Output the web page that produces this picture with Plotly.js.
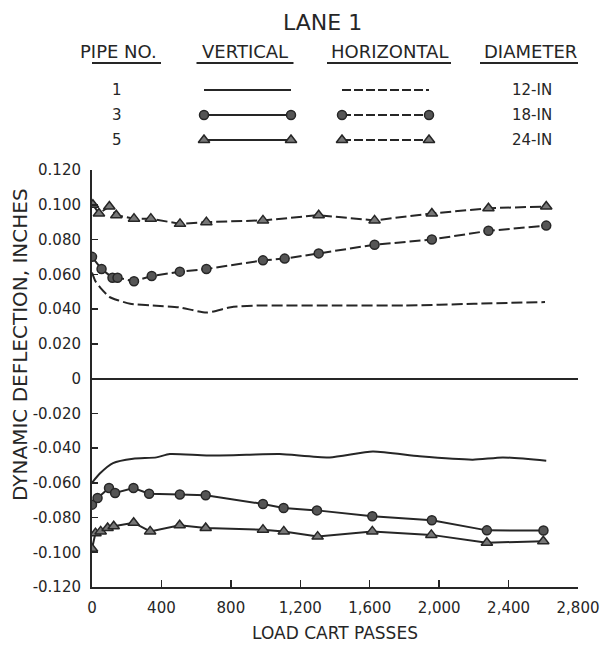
<!DOCTYPE html>
<html>
<head>
<meta charset="utf-8">
<script src="https://cdn.plot.ly/plotly-3.0.1.min.js"></script>
<style>html,body{margin:0;padding:0;background:#fff;}#chart{width:603px;height:646px;}</style>
</head>
<body>
<div id="chart"></div>
<script>
// ---- Data (load cart passes vs dynamic deflection, inches) ----
// Horizontal deflection (dashed, positive)
const h1Passes = [0, 20, 50, 100, 150, 220, 350, 500, 660, 800, 950, 1100, 1400, 1800, 2200, 2610];
const h1Defl   = [0.061, 0.056, 0.052, 0.047, 0.045, 0.043, 0.042, 0.041, 0.038, 0.041, 0.042, 0.042, 0.042, 0.042, 0.043, 0.044];

const h3Passes = [0, 55, 118, 147, 242, 344, 506, 659, 985, 1110, 1306, 1628, 1958, 2284, 2617];
const h3Defl   = [0.070, 0.063, 0.058, 0.058, 0.056, 0.059, 0.0615, 0.063, 0.068, 0.069, 0.072, 0.077, 0.080, 0.085, 0.088];

const h5Passes = [5, 40, 100, 140, 242, 339, 507, 659, 985, 1306, 1628, 1958, 2284, 2617];
const h5Defl   = [0.100, 0.095, 0.099, 0.094, 0.092, 0.092, 0.089, 0.090, 0.091, 0.094, 0.091, 0.095, 0.098, 0.099];

// Vertical deflection (solid, negative)
const v1Passes = [0, 45, 121, 237, 371, 448, 659, 889, 1081, 1369, 1618, 1887, 2194, 2367, 2617];
const v1Defl   = [-0.060, -0.0547, -0.0487, -0.0462, -0.0454, -0.0435, -0.0443, -0.0439, -0.0435, -0.0454, -0.042, -0.0448, -0.0467, -0.0454, -0.0473];

const v3Passes = [0, 32, 98, 133, 239, 329, 506, 655, 985, 1104, 1296, 1615, 1958, 2275, 2601];
const v3Defl   = [-0.0726, -0.0688, -0.063, -0.0659, -0.063, -0.0663, -0.0668, -0.0672, -0.0722, -0.0745, -0.0759, -0.0793, -0.0816, -0.0874, -0.0875];

const v5Passes = [0, 20, 50, 90, 125, 240, 335, 505, 655, 985, 1105, 1300, 1615, 1955, 2275, 2600];
const v5Defl   = [-0.098, -0.089, -0.088, -0.086, -0.085, -0.083, -0.088, -0.0845, -0.086, -0.087, -0.088, -0.091, -0.088, -0.090, -0.0945, -0.0937];

// Tick labels
const xTickVals = [0, 400, 800, 1200, 1600, 2000, 2400, 2800];
const xTickText = ['0', '400', '800', '1,200', '1,600', '2,000', '2,400', '2,800'];
const yTickVals = [0.12, 0.10, 0.08, 0.06, 0.04, 0.02, 0, -0.02, -0.04, -0.06, -0.08, -0.10, -0.12];
const yTickText = ['0.120', '0.100', '0.080', '0.060', '0.040', '0.020', '0', '-0.020', '-0.040', '-0.060', '-0.080', '-0.100', '-0.120'];

// Titles and legend table text
const xTitle = 'LOAD CART PASSES';
const yTitle = 'DYNAMIC DEFLECTION, INCHES';
const legendTitle = 'LANE 1';
const legendHeaders = ['PIPE NO.', 'VERTICAL', 'HORIZONTAL', 'DIAMETER'];
const pipeNumbers = ['1', '3', '5'];
const diameters = ['12-IN', '18-IN', '24-IN'];

// ---- Styles ----
const INK = '#262626';
const FONT = 'DejaVu Sans, Arial, sans-serif';
const DASH = '11px,4px';
const circ = {symbol: 'circle', size: 9, color: '#555', line: {color: INK, width: 1.5}};
const tri  = {symbol: 'triangle-up', size: 10, color: '#777', line: {color: INK, width: 1.5}};

const traces = [
  {x: h1Passes, y: h1Defl, mode: 'lines', line: {color: INK, width: 2, dash: DASH, shape: 'spline', smoothing: 0.6}},
  {x: h3Passes, y: h3Defl, mode: 'lines+markers', line: {color: INK, width: 2, dash: DASH}, marker: circ},
  {x: h5Passes, y: h5Defl, mode: 'lines+markers', line: {color: INK, width: 2, dash: DASH}, marker: tri},
  {x: v1Passes, y: v1Defl, mode: 'lines', line: {color: INK, width: 2, shape: 'spline', smoothing: 0.6}},
  {x: v3Passes, y: v3Defl, mode: 'lines+markers', line: {color: INK, width: 2}, marker: circ},
  {x: v5Passes, y: v5Defl, mode: 'lines+markers', line: {color: INK, width: 2}, marker: tri}
];

// Legend sample traces on a helper axis pair (x2/y2 in pixel-like units)
const legRowsY = [90, 115, 140];
const vertX = [204, 291];
const horzX = [342, 429];
const legMarkers = [null, circ, tri];
legRowsY.forEach((ry, i) => {
  const mk = legMarkers[i];
  const a = {x: vertX, y: [ry, ry], xaxis: 'x2', yaxis: 'y2', mode: mk ? 'lines+markers' : 'lines',
    line: {color: INK, width: 2}};
  const b = {x: horzX, y: [ry, ry], xaxis: 'x2', yaxis: 'y2', mode: mk ? 'lines+markers' : 'lines',
    line: {color: INK, width: 2, dash: '9px,3px'}};
  if (mk) { a.marker = mk; b.marker = mk; }
  traces.push(a, b);
});
traces.forEach(t => { t.showlegend = false; t.hoverinfo = 'skip'; });

const headerX = [118, 245, 389, 530];
const headerW = [86, 97, 124, 100];
const annotations = [
  {text: legendTitle, x: 322, y: 22, xref: 'x2', yref: 'y2', showarrow: false, font: {family: FONT, size: 22, color: INK}},
  {text: yTitle, x: (20 - 92) / 486, y: (587 - 345) / 587, xref: 'paper', yref: 'paper', textangle: -90,
   showarrow: false, xanchor: 'center', yanchor: 'middle', font: {family: FONT, size: 20, color: INK}}
];
legendHeaders.forEach((h, i) => annotations.push({text: h, x: headerX[i], y: 51, xref: 'x2', yref: 'y2', showarrow: false, font: {family: FONT, size: 18, color: INK}}));
pipeNumbers.forEach((p, i) => annotations.push({text: p, x: 117, y: legRowsY[i], xref: 'x2', yref: 'y2', showarrow: false, font: {family: FONT, size: 15, color: INK}}));
diameters.forEach((d, i) => annotations.push({text: d, x: 532, y: legRowsY[i], xref: 'x2', yref: 'y2', showarrow: false, font: {family: FONT, size: 15, color: INK}}));

const shapes = headerX.map((cx, i) => ({type: 'line', xref: 'x2', yref: 'y2', x0: cx - headerW[i] / 2, x1: cx + headerW[i] / 2, y0: 63, y1: 63, line: {color: INK, width: 2}}));

const mainTop = 417 / 587;
const layout = {
  width: 603, height: 646,
  margin: {l: 92, r: 25, t: 0, b: 59, pad: 0},
  paper_bgcolor: '#fff', plot_bgcolor: 'rgba(0,0,0,0)',
  font: {family: FONT, color: INK},
  showlegend: false,
  xaxis: {
    domain: [0, 1], range: [0, 2800], anchor: 'y',
    tickvals: xTickVals, ticktext: xTickText,
    ticks: 'inside', ticklen: 7, tickwidth: 1.5, tickcolor: INK,
    showline: true, linecolor: INK, linewidth: 2, mirror: false,
    showgrid: false, zeroline: false,
    tickfont: {family: FONT, size: 15, color: INK},
    ticklabelstandoff: 6,
    title: {text: xTitle, font: {family: FONT, size: 17, color: INK}, standoff: 11}
  },
  yaxis: {
    domain: [0, mainTop], range: [-0.12, 0.12], anchor: 'x',
    tickvals: yTickVals, ticktext: yTickText,
    ticks: 'inside', ticklen: 6, tickwidth: 1.5, tickcolor: INK,
    showline: true, linecolor: INK, linewidth: 2,
    showgrid: false,
    zeroline: true, zerolinecolor: INK, zerolinewidth: 2,
    tickfont: {family: FONT, size: 15, color: INK},
    ticklabelstandoff: 6
  },
  xaxis2: {domain: [0, 1], range: [92, 578], anchor: 'y2', visible: false, fixedrange: true},
  yaxis2: {domain: [0.72, 1], range: [587 * 0.28, 0], anchor: 'x2', visible: false, fixedrange: true},
  annotations: annotations,
  shapes: shapes
};

Plotly.newPlot('chart', traces, layout, {staticPlot: true, displayModeBar: false});
</script>
</body>
</html>
